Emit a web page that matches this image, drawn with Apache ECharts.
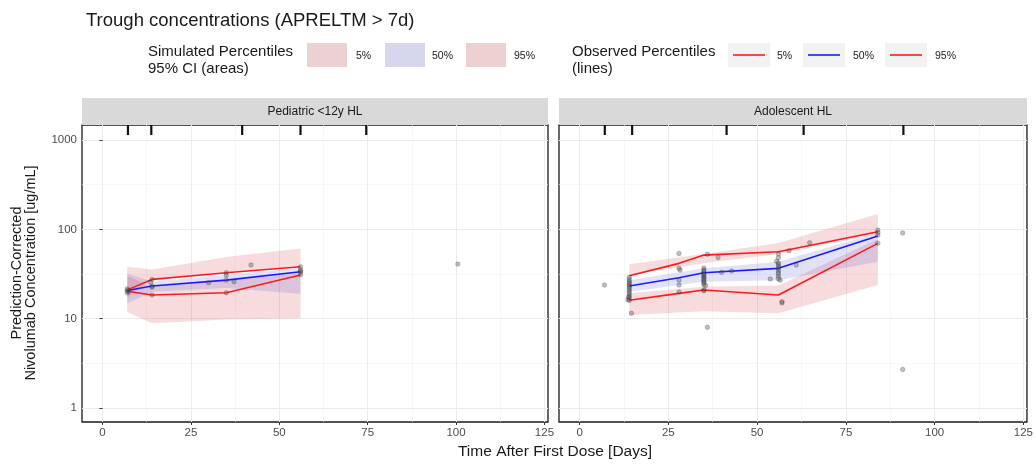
<!DOCTYPE html>
<html>
<head>
<meta charset="utf-8">
<script src="https://cdn.jsdelivr.net/npm/echarts@6/dist/echarts.min.js"></script>
<style>
  html, body { margin: 0; padding: 0; background: #fff; }
  #chart { width: 1036px; height: 466px; }
</style>
</head>
<body>
<div id="chart"></div>
<script>
// ---- Panel titles ----
const PANELS = ['Pediatric <12y HL', 'Adolescent HL'];

// ---- Pediatric <12y HL: simulated percentile 95% CI bands ----
const PED_SIM_DAYS   = [7, 14, 35, 56];
const PED_SIM_P5_LO  = [11.9, 8.9, 9.8, 10.1];
const PED_SIM_P5_HI  = [30, 22.8, 27, 32];
const PED_SIM_P50_LO = [14.8, 20, 22, 19];
const PED_SIM_P50_HI = [32, 25.9, 30.8, 37];
const PED_SIM_P95_LO = [17, 28, 33, 37];
const PED_SIM_P95_HI = [38, 35.5, 49, 61];

// ---- Pediatric <12y HL: observed percentiles ----
const PED_OBS_DAYS = [7, 14, 35, 56];
const PED_OBS_P5   = [20.3, 18.4, 19.5, 30.8];
const PED_OBS_P50  = [20.7, 23.2, 27, 33.5];
const PED_OBS_P95  = [21, 27.5, 32.7, 38.1];

// ---- Pediatric <12y HL: observed troughs [day, ug/mL] ----
const PED_POINTS = [
  [7, 19.5], [7, 20.7], [7, 21.5], [7.3, 20.2],
  [14, 27.5], [14, 23.2], [14, 18.4], [13.6, 25.5], [14, 22.5],
  [30, 25.2],
  [35, 32.7], [35, 27], [35, 19.5], [35, 30.5],
  [37.2, 25.9], [42, 39.8],
  [56, 38], [56, 35], [56, 33], [56, 31], [56, 34],
  [100.5, 40.8]
];

// ---- Pediatric <12y HL: nominal sampling times (rug) ----
const PED_RUG = [7.2, 13.8, 39.5, 56, 74.6];

// ---- Adolescent HL: simulated percentile 95% CI bands ----
const ADO_SIM_DAYS   = [14, 35, 56, 84];
const ADO_SIM_P5_LO  = [11, 12.1, 11.5, 23.8];
const ADO_SIM_P5_HI  = [19.2, 22.8, 23.5, 78];
const ADO_SIM_P50_LO = [20, 25.9, 27, 43.3];
const ADO_SIM_P50_HI = [27, 36.6, 43.3, 91];
const ADO_SIM_P95_LO = [30.8, 41.6, 53, 88.5];
const ADO_SIM_P95_HI = [40.6, 52.9, 70.3, 148];

// ---- Adolescent HL: observed percentiles ----
const ADO_OBS_DAYS = [14, 28, 35, 56, 84];
const ADO_OBS_P5   = [16.1, 19.2, 20.9, 18.4, 69.7];
const ADO_OBS_P50  = [23.2, 28.7, 32.7, 36.6, 84.1];
const ADO_OBS_P95  = [30.2, 41.6, 51.5, 56.1, 94];

// ---- Adolescent HL: observed troughs [day, ug/mL] ----
const ADO_POINTS = [
  [7, 23.8],
  [14, 29], [14, 27.5], [14, 26], [14, 25], [14, 24], [14, 23], [14, 22], [14, 21],
  [14, 20], [14, 19], [14, 18], [14, 17], [13.6, 16.3], [14, 16], [13.8, 17.5], [14.6, 11.5],
  [28, 53.8], [28, 36.6], [28.3, 35], [28, 27], [28, 23.8], [28, 19.9],
  [35, 37], [35, 35], [35, 33.5], [35, 32], [35, 31], [35, 30], [35, 29], [35, 28],
  [35, 27], [35, 26], [35, 25], [35, 24], [35.5, 23.5], [35, 21], [35, 20.5],
  [36, 52.5], [36, 8], [39, 48.5], [40, 33], [42.8, 34.1],
  [56, 53], [56, 48], [55.5, 44], [56, 42], [56, 40], [56, 38], [56, 36], [56, 34],
  [56, 32], [56, 30], [56, 28], [56.5, 27], [53.7, 27.8], [57, 15.5], [57, 15],
  [59, 57.5], [61, 39.8], [64.8, 70.8],
  [84, 98], [84, 92], [84, 86], [84, 70],
  [91, 91], [91, 2.7]
];

// ---- Adolescent HL: nominal sampling times (rug) ----
const ADO_RUG = [7.1, 14.8, 41.4, 63.1, 91.2];

// ---- Axis ticks ----
const X_TICKS = [0, 25, 50, 75, 100, 125];
const X_MINOR = [12.5, 37.5, 62.5, 87.5, 112.5];
const Y_TICKS = [1, 10, 100, 1000];
const Y_MINOR = [3.1623, 31.623, 316.23];
const X_MIN = -5.8, X_MAX = 126;
const Y_MIN = 0.697, Y_MAX = 1472;

// ---- Colours ----
const BAND_RED = 'rgba(215,75,85,0.2)';
const BAND_BLUE = 'rgba(80,80,215,0.17)';
const LINE_RED = '#ff1a1a';
const LINE_BLUE = '#1a1aff';
const GRID_COL = '#ebebeb';
const FONT = '"Liberation Sans", Arial, Helvetica, sans-serif';

const pair = (xs, ys) => xs.map((x, i) => [x, ys[i]]);

// One filled polygon per band: upper edge left-to-right, lower edge back.
function bandSeries(idx, days, lo, hi, color) {
  return {
    type: 'custom', xAxisIndex: idx, yAxisIndex: idx, silent: true, z: 2,
    data: days.map((d, i) => [d, lo[i], hi[i]]),
    encode: { x: 0, y: [1, 2] },
    renderItem: function (params, api) {
      if (params.dataIndex !== 0) return null;
      const upper = days.map((d, i) => api.coord([d, hi[i]]));
      const lower = days.map((d, i) => api.coord([d, lo[i]])).reverse();
      return {
        type: 'polygon',
        shape: { points: upper.concat(lower) },
        style: { fill: color }
      };
    }
  };
}

function lineSeries(idx, days, vals, color) {
  return {
    type: 'line', xAxisIndex: idx, yAxisIndex: idx,
    data: pair(days, vals), symbol: 'none', silent: true,
    lineStyle: { color: color, width: 1.6 }, z: 4
  };
}

function pointSeries(idx, pts) {
  return {
    type: 'scatter', xAxisIndex: idx, yAxisIndex: idx,
    data: pts, symbolSize: 4.5, silent: true,
    itemStyle: { color: 'rgba(80,80,80,0.45)', borderColor: 'rgba(20,20,20,0.45)', borderWidth: 0.6 },
    z: 5,
    markLine: {
      silent: true, symbol: 'none', z: 1, animation: false,
      label: { show: false },
      lineStyle: { color: '#f2f2f2', width: 0.6, type: 'solid' },
      data: X_MINOR.map(v => ({ xAxis: v })).concat(Y_MINOR.map(v => ({ yAxis: v })))
    }
  };
}

function rugSeries(idx, days) {
  return {
    type: 'custom', xAxisIndex: idx, yAxisIndex: idx, silent: true, z: 6,
    data: days.map(d => [d]),
    encode: { x: 0 },
    renderItem: function (params, api) {
      const p = api.coord([api.value(0), Y_MAX]);
      return {
        type: 'line',
        shape: { x1: p[0], y1: p[1], x2: p[0], y2: p[1] + 10 },
        style: { stroke: '#111', lineWidth: 2.2 }
      };
    }
  };
}

const gridBase = { top: 125, height: 297, show: true, borderColor: '#1a1a1a', borderWidth: 1.3, backgroundColor: '#fff' };

function xAxisOf(idx) {
  return {
    type: 'value', gridIndex: idx, min: X_MIN, max: X_MAX,
    minInterval: 25, maxInterval: 25,
    axisLine: { show: false },
    axisTick: { show: true, length: 3, lineStyle: { color: '#333', width: 1 }, customValues: X_TICKS },
    axisLabel: { color: '#4d4d4d', fontSize: 11.5, fontFamily: FONT, margin: 5, customValues: X_TICKS },
    splitLine: { show: true, lineStyle: { color: GRID_COL, width: 1 } }
  };
}

function yAxisOf(idx, labels) {
  return {
    type: 'log', logBase: 10, gridIndex: idx, min: Y_MIN, max: Y_MAX,
    axisLine: { show: false },
    axisTick: { show: labels, length: 3, lineStyle: { color: '#333', width: 1 }, customValues: Y_TICKS },
    axisLabel: {
      show: labels, color: '#4d4d4d', fontSize: 11.5, fontFamily: FONT, margin: 5,
      customValues: Y_TICKS,
      formatter: function (v) {
        const l = Math.log10(v);
        return Math.abs(l - Math.round(l)) < 1e-6 ? String(Math.round(v)) : '';
      }
    },
    splitLine: { show: true, lineStyle: { color: GRID_COL, width: 1 } }
  };
}

// ---- Legend and strip decoration ----
const legendText = (x, y, t, size) => ({
  type: 'text', x: x, y: y,
  style: { text: t, fill: '#1a1a1a', font: size + 'px ' + FONT, align: 'left', verticalAlign: 'middle' }
});
const legendBox = (x, fill) => ({
  type: 'group', children: [
    { type: 'rect', shape: { x: x, y: 43, width: 40, height: 24 }, style: { fill: '#f2f2f2' } },
    { type: 'rect', shape: { x: x, y: 43, width: 40, height: 24 }, style: { fill: fill } }
  ]
});
const legendLineKey = (x, color) => ({
  type: 'group', children: [
    { type: 'rect', shape: { x: x, y: 43, width: 42, height: 24 }, style: { fill: '#f2f2f2' } },
    { type: 'line', shape: { x1: x + 5, y1: 55, x2: x + 37, y2: 55 }, style: { stroke: color, lineWidth: 1.6 } }
  ]
});
const strip = (x, w, t) => ({
  type: 'group', children: [
    { type: 'rect', shape: { x: x, y: 98, width: w, height: 27 }, style: { fill: '#d9d9d9' } },
    { type: 'text', x: x + w / 2, y: 112, style: { text: t, fill: '#1a1a1a', font: '12px ' + FONT, align: 'center', verticalAlign: 'middle' } }
  ]
});

const graphics = [
  legendText(148, 52, 'Simulated Percentiles', 15),
  legendText(148, 69, '95% CI (areas)', 15),
  legendBox(307, BAND_RED), legendText(356, 56, '5%', 10.5),
  legendBox(385, BAND_BLUE), legendText(432, 56, '50%', 10.5),
  legendBox(466, BAND_RED), legendText(514, 56, '95%', 10.5),
  legendText(572, 52, 'Observed Percentiles', 15),
  legendText(572, 69, '(lines)', 15),
  legendLineKey(728, LINE_RED), legendText(777, 56, '5%', 10.5),
  legendLineKey(803, LINE_BLUE), legendText(853, 56, '50%', 10.5),
  legendLineKey(885, LINE_RED), legendText(935, 56, '95%', 10.5),
  strip(82, 466, PANELS[0]),
  strip(559, 468, PANELS[1]),
  {
    type: 'text', x: 24, y: 273, rotation: Math.PI / 2,
    style: { text: 'Prediction-Corrected\nNivolumab Concentration [ug/mL]', fill: '#1a1a1a', font: '14.5px ' + FONT, align: 'center', verticalAlign: 'middle', lineHeight: 14 }
  },
  {
    type: 'text', x: 555, y: 452,
    style: { text: 'Time After First Dose [Days]', fill: '#1a1a1a', font: '15.5px ' + FONT, align: 'center', verticalAlign: 'middle' }
  }
];

const series = [
  bandSeries(0, PED_SIM_DAYS, PED_SIM_P5_LO, PED_SIM_P5_HI, BAND_RED),
  bandSeries(0, PED_SIM_DAYS, PED_SIM_P50_LO, PED_SIM_P50_HI, BAND_BLUE),
  bandSeries(0, PED_SIM_DAYS, PED_SIM_P95_LO, PED_SIM_P95_HI, BAND_RED),
  lineSeries(0, PED_OBS_DAYS, PED_OBS_P5, LINE_RED),
  lineSeries(0, PED_OBS_DAYS, PED_OBS_P50, LINE_BLUE),
  lineSeries(0, PED_OBS_DAYS, PED_OBS_P95, LINE_RED),
  pointSeries(0, PED_POINTS),
  rugSeries(0, PED_RUG),
  bandSeries(1, ADO_SIM_DAYS, ADO_SIM_P5_LO, ADO_SIM_P5_HI, BAND_RED),
  bandSeries(1, ADO_SIM_DAYS, ADO_SIM_P50_LO, ADO_SIM_P50_HI, BAND_BLUE),
  bandSeries(1, ADO_SIM_DAYS, ADO_SIM_P95_LO, ADO_SIM_P95_HI, BAND_RED),
  lineSeries(1, ADO_OBS_DAYS, ADO_OBS_P5, LINE_RED),
  lineSeries(1, ADO_OBS_DAYS, ADO_OBS_P50, LINE_BLUE),
  lineSeries(1, ADO_OBS_DAYS, ADO_OBS_P95, LINE_RED),
  pointSeries(1, ADO_POINTS),
  rugSeries(1, ADO_RUG)
];

const chart = echarts.init(document.getElementById('chart'), null, { renderer: 'canvas' });
chart.setOption({
  animation: false,
  backgroundColor: '#fff',
  title: {
    text: 'Trough concentrations (APRELTM > 7d)',
    left: 81, top: 6,
    textStyle: { fontSize: 18.5, fontWeight: 'normal', color: '#1a1a1a', fontFamily: FONT }
  },
  grid: [
    Object.assign({ left: 82, width: 466 }, gridBase),
    Object.assign({ left: 559, width: 468 }, gridBase)
  ],
  xAxis: [xAxisOf(0), xAxisOf(1)],
  yAxis: [yAxisOf(0, true), yAxisOf(1, false)],
  graphic: graphics,
  series: series
});
</script>
</body>
</html>
